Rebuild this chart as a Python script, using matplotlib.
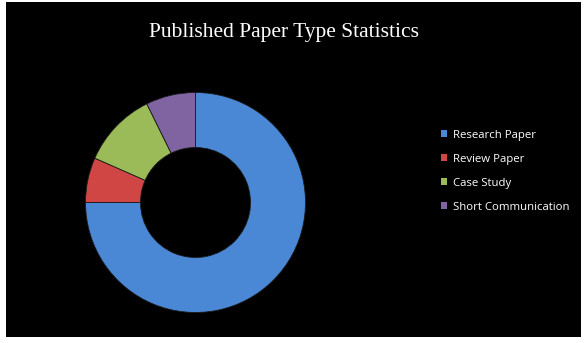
import matplotlib
matplotlib.use("Agg")
import matplotlib.pyplot as plt
from matplotlib.patches import Rectangle, Patch

categories = ["Research Paper", "Review Paper", "Case Study", "Short Communication"]
values = [75, 6.6, 11.1, 7.3]
colors = ["#4A88D6", "#CF4644", "#9BBB59", "#8064A2"]
title = "Published Paper Type Statistics"

W, H = 585, 343
fig = plt.figure(figsize=(W / 100, H / 100), dpi=100, facecolor="white")
bg = fig.add_axes([6 / W, (H - 337) / H, (581 - 6) / W, (337 - 2) / H], zorder=-10)
bg.set_facecolor("black")
bg.set_xticks([])
bg.set_yticks([])
for s in bg.spines.values():
    s.set_visible(False)

cx, cy, r = 195.5, 202.5, 110
ax = fig.add_axes([(cx - r) / W, (H - cy - r) / H, 2 * r / W, 2 * r / H], zorder=1)
ax.set_facecolor("none")
wedges, _ = ax.pie(values, colors=colors, startangle=90, counterclock=False,
                   radius=1.0,
                   wedgeprops=dict(width=0.5, edgecolor="#1a1a1a", linewidth=0.6))
ax.set_xlim(-1.0, 1.0)
ax.set_ylim(-1.0, 1.0)
ax.set_aspect("equal")
ax.axis("off")

fig.text(284 / W, 1 - 32 / H, title, ha="center", va="center",
         color="white", fontsize=15.5, family="Liberation Serif")

handles = [Patch(facecolor=c, edgecolor="none") for c in colors]
leg = fig.legend(handles, categories, loc="upper left",
                 bbox_to_anchor=(436 / W, 1 - 125 / H),
                 frameon=False, labelcolor="white",
                 prop=dict(family="Open Sans", size=8.2),
                 handlelength=0.6, handleheight=0.6, handletextpad=0.45,
                 labelspacing=1.15, borderaxespad=0)

fig.savefig("out.png", dpi=100, facecolor="white")
